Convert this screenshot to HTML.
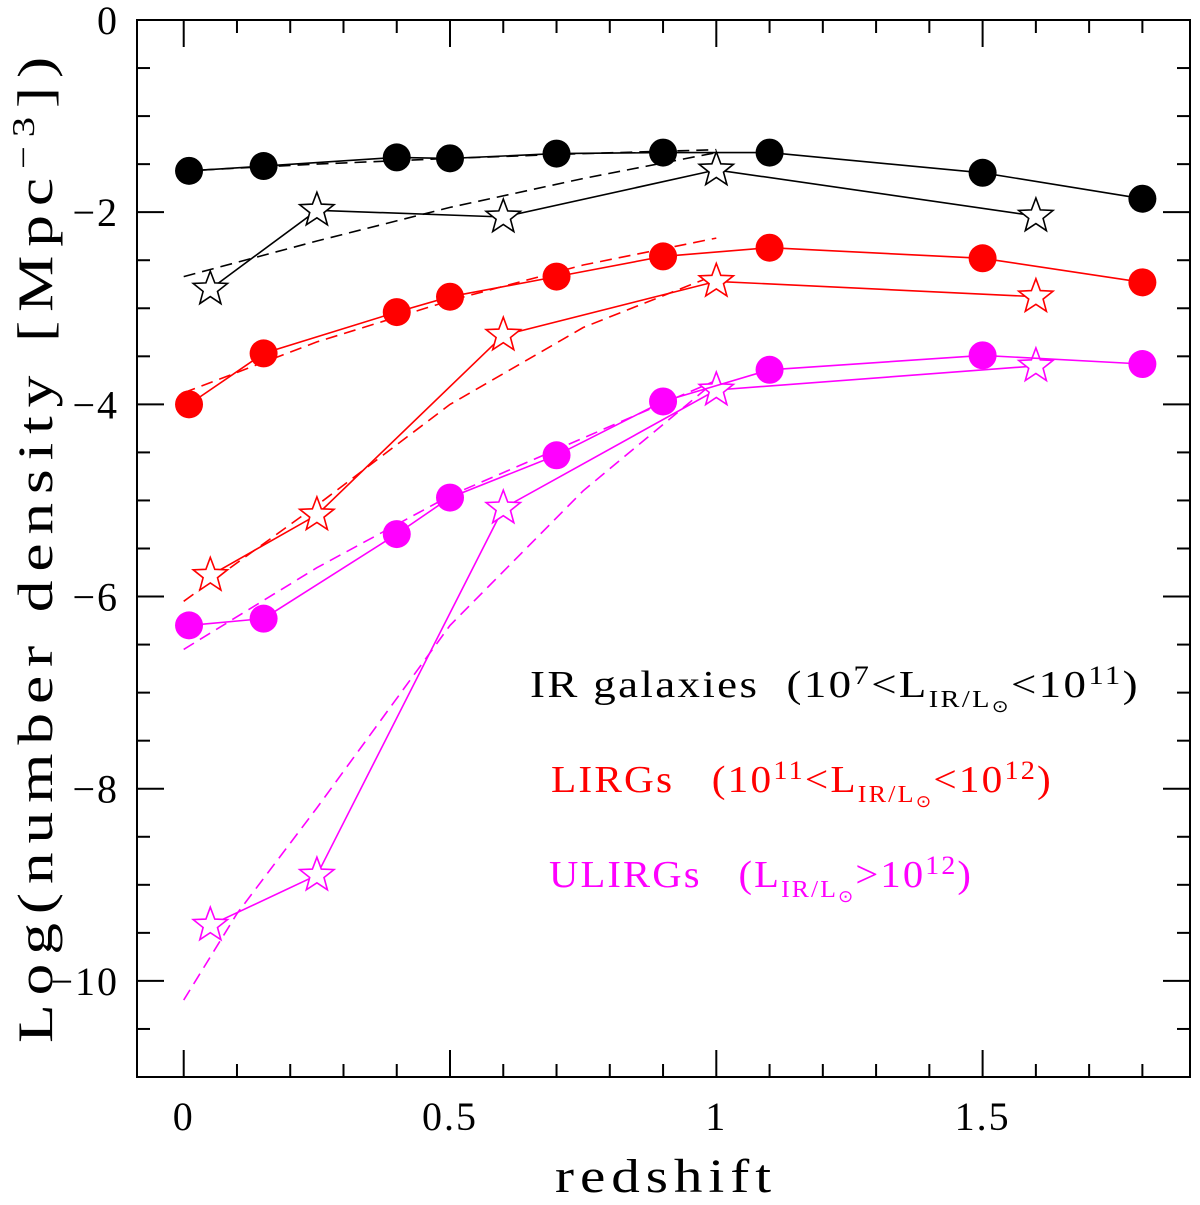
<!DOCTYPE html>
<html><head><meta charset="utf-8"><style>
body{margin:0;background:#fff}
svg text{font-family:"Liberation Serif",serif;white-space:pre}
</style></head><body>
<svg id="chart" width="1200" height="1200" xmlns="http://www.w3.org/2000/svg">
<rect x="0" y="0" width="1200" height="1200" fill="#fff"/>
<g id="plot"></g>
<g id="legend" font-size="38">
<text x="530" y="697" fill="#000" letter-spacing="2" textLength="610" lengthAdjust="spacingAndGlyphs">IR galaxies  (10<tspan font-size="26" dy="-13">7</tspan><tspan dy="13">&lt;L</tspan><tspan font-size="24" dy="10">IR/L</tspan><tspan font-size="17" dy="5">⊙</tspan><tspan dy="-15">&lt;10</tspan><tspan font-size="26" dy="-13">11</tspan><tspan dy="13">)</tspan></text>
<text x="551" y="792" fill="#ff0000" letter-spacing="2" textLength="502" lengthAdjust="spacingAndGlyphs">LIRGs   (10<tspan font-size="26" dy="-13">11</tspan><tspan dy="13">&lt;L</tspan><tspan font-size="24" dy="10">IR/L</tspan><tspan font-size="17" dy="5">⊙</tspan><tspan dy="-15">&lt;10</tspan><tspan font-size="26" dy="-13">12</tspan><tspan dy="13">)</tspan></text>
<text x="549" y="887" fill="#ff00ff" letter-spacing="2" textLength="424" lengthAdjust="spacingAndGlyphs">ULIRGs   (L<tspan font-size="24" dy="10">IR/L</tspan><tspan font-size="17" dy="5">⊙</tspan><tspan dy="-15">&gt;10</tspan><tspan font-size="26" dy="-13">12</tspan><tspan dy="13">)</tspan></text>
</g>
<text x="555" y="1192" font-size="48" letter-spacing="5" textLength="222" lengthAdjust="spacingAndGlyphs">redshift</text>
<text transform="translate(52,1043) rotate(-90)" font-size="50" letter-spacing="7" textLength="995" lengthAdjust="spacingAndGlyphs">Log(number density [Mpc<tspan font-size="32" dy="-18">−3</tspan><tspan dy="18">])</tspan></text>
</svg>
<script>
const xMin=-0.0877, xMax=1.8894, yMin=-11, yMax=0;
const X0=137, X1=1190, Y0=20, Y1=1077;
const xTickLabels=["0","0.5","1","1.5"];
const xTickValues=[0,0.5,1,1.5];
const yTickLabels=["0","−2","−4","−6","−8","−10"];
const yTickValues=[0,-2,-4,-6,-8,-10];

const zCirc=[0.01,0.15,0.4,0.5,0.7,0.9,1.1,1.5,1.8];
const zStar=[0.05,0.25,0.6,1.0,1.6];
const blackCirc=[-1.57,-1.52,-1.43,-1.44,-1.39,-1.38,-1.38,-1.59,-1.86];
const blackStar=[-2.8,-1.98,-2.05,-1.56,-2.04];
const redCirc=[-4.0,-3.47,-3.04,-2.88,-2.67,-2.46,-2.37,-2.48,-2.73];
const redStar=[-5.78,-5.15,-3.28,-2.72,-2.88];
const magCirc=[-6.3,-6.23,-5.35,-4.97,-4.53,-3.97,-3.64,-3.49,-3.58];
const magStar=[-9.42,-8.9,-5.08,-3.85,-3.6];

const zFit=[0,0.25,0.5,0.75,1.0];
const blackCircFit=[-1.57,-1.5,-1.44,-1.39,-1.35];
const blackStarFit=[-2.67,-2.3,-1.95,-1.65,-1.38];
const redCircFit=[-3.88,-3.35,-2.92,-2.55,-2.27];
const redStarFit=[-6.05,-5.05,-4.0,-3.2,-2.65];
const magCircFit=[-6.55,-5.7,-4.95,-4.35,-3.75];
const zFitM=[0,0.1,0.25,0.5,0.75,1.0];
const magStarFit=[-10.2,-9.3,-8.2,-6.3,-4.9,-3.75];

const sx=v=>X0+(v-xMin)/(xMax-xMin)*(X1-X0);
const sy=v=>Y0+(yMax-v)/(yMax-yMin)*(Y1-Y0);
const NS="http://www.w3.org/2000/svg";
const plot=document.getElementById('plot');
function mk(t,a,p){const e=document.createElementNS(NS,t);for(const k in a)e.setAttribute(k,a[k]);(p||plot).appendChild(e);return e;}

const frame=mk('rect',{x:X0,y:Y0,width:X1-X0,height:Y1-Y0,fill:'none',stroke:'#000','stroke-width':2});


for(let i=0;i<=18;i++){const v=i*0.1;const x=sx(v);const L=(i%5==0)?27:13;
 mk('line',{x1:x,y1:Y1,x2:x,y2:Y1-L,stroke:'#000','stroke-width':2});
 mk('line',{x1:x,y1:Y0,x2:x,y2:Y0+L,stroke:'#000','stroke-width':2});}
for(let i=0;i<=22;i++){const v=-i*0.5;const y=sy(v);const L=(i%4==0)?27:13;
 mk('line',{x1:X0,y1:y,x2:X0+L,y2:y,stroke:'#000','stroke-width':2});
 mk('line',{x1:X1,y1:y,x2:X1-L,y2:y,stroke:'#000','stroke-width':2});}
xTickValues.forEach((v,i)=>{const t=mk('text',{x:sx(v),y:1130,'font-size':40,'letter-spacing':2,'text-anchor':'middle'});t.textContent=xTickLabels[i];
 
 });
yTickValues.forEach((v,i)=>{const t=mk('text',{x:119,y:sy(v)+14,'font-size':40,'letter-spacing':2,'text-anchor':'end'});t.textContent=yTickLabels[i];
 
 });

function pts(xs,ys){return xs.map((x,i)=>sx(x).toFixed(1)+','+sy(ys[i]).toFixed(1)).join(' ');}
function dashed(xs,ys,c,name){const e=mk('polyline',{points:pts(xs,ys),fill:'none',stroke:c,'stroke-width':1.6,'stroke-dasharray':'12,7'});
 
 }
function circSeries(ys,c,name){const l=mk('polyline',{points:pts(zCirc,ys),fill:'none',stroke:c,'stroke-width':1.6});
 
 
 zCirc.forEach((z,i)=>{const e=mk('circle',{cx:sx(z),cy:sy(ys[i]),r:14,fill:c});
 
 });}
function starPath(cx,cy,R){const r=R*0.42;let d='';for(let k=0;k<10;k++){const a=-Math.PI/2+k*Math.PI/5;const rr=k%2?r:R;d+=(k?'L':'M')+(cx+rr*Math.cos(a)).toFixed(1)+','+(cy+rr*Math.sin(a)).toFixed(1);}return d+'Z';}
function starSeries(ys,c,name){const l=mk('polyline',{points:pts(zStar,ys),fill:'none',stroke:c,'stroke-width':1.6});
 
 
 zStar.forEach((z,i)=>{const e=mk('path',{d:starPath(sx(z),sy(ys[i]),18),fill:'#fff',stroke:c,'stroke-width':1.6});
 
 });}

dashed(zFit,blackCircFit,'#000','black-circle-fit');
dashed(zFit,blackStarFit,'#000','black-star-fit');
dashed(zFit,redCircFit,'#ff0000','red-circle-fit');
dashed(zFit,redStarFit,'#ff0000','red-star-fit');
dashed(zFit,magCircFit,'#ff00ff','magenta-circle-fit');
dashed(zFitM,magStarFit,'#ff00ff','magenta-star-fit');
starSeries(blackStar,'#000','ir-galaxies-star');
starSeries(redStar,'#ff0000','lirgs-star');
starSeries(magStar,'#ff00ff','ulirgs-star');
circSeries(blackCirc,'#000','ir-galaxies-circle');
circSeries(redCirc,'#ff0000','lirgs-circle');
circSeries(magCirc,'#ff00ff','ulirgs-circle');
</script>
</body></html>
